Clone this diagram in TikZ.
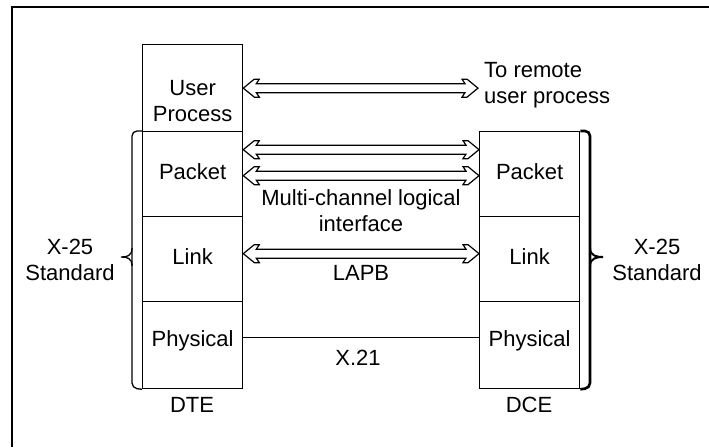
\documentclass[tikz,border=0pt]{standalone}
\usepackage{fontspec}
\setmainfont{Liberation Sans}
\usetikzlibrary{arrows.meta,calc}
\begin{document}
\begin{tikzpicture}[x=1pt,y=-1pt,
  layer/.style={draw, line width=1.3pt, minimum width=100pt, inner sep=0pt, anchor=north west},
  txt/.style={font=\fontsize{22}{26}\selectfont, align=center, inner sep=0pt},
  dbl/.style={draw, fill=white, line width=1.2pt, line join=miter, to path={
    let \p1=(\tikztostart), \p2=(\tikztotarget) in
    (\x1,\y1) -- (\x1+11pt,\y1+9pt) -- (\x1+16pt,\y1+9pt) -- (\x1+13pt,\y1+4.5pt)
    -- (\x2-13pt,\y1+4.5pt) -- (\x2-16pt,\y1+9pt) -- (\x2-11pt,\y1+9pt) -- (\x2,\y1)
    -- (\x2-11pt,\y1-9pt) -- (\x2-16pt,\y1-9pt) -- (\x2-13pt,\y1-4.5pt)
    -- (\x1+13pt,\y1-4.5pt) -- (\x1+16pt,\y1-9pt) -- (\x1+11pt,\y1-9pt) -- cycle}},
  brace/.style={line width=1.3pt, rounded corners=5pt}]
\useasboundingbox (0,0) rectangle (709,447);
% outer frame (only top and left visible)
\draw[line width=2pt] (12,447) -- (12,7) -- (709,7);
% DTE stack
\node[layer, minimum height=87pt] (dteU) at (142,44) {};
\node[layer, minimum height=85pt] (dteP) at (142,131) {};
\node[layer, minimum height=85pt] (dteL) at (142,216) {};
\node[layer, minimum height=87pt] (dtePh) at (142,301) {};
% DCE stack
\node[layer, minimum height=85pt] (dceP) at (479,131) {};
\node[layer, minimum height=85pt] (dceL) at (479,216) {};
\node[layer, minimum height=87pt] (dcePh) at (479,301) {};
% layer texts
\node[txt] (tU) at ($(dteU.center)+(0,13)$) {User\\Process};
\node[txt] (tP1) at ($(dteP.center)+(0,-3)$) {Packet};
\node[txt] (tL1) at ($(dteL.center)+(0,-3)$) {Link};
\node[txt] (tPh1) at ($(dtePh.center)+(0,-4)$) {Physical};
\node[txt] (tP2) at ($(dceP.center)+(0,-3)$) {Packet};
\node[txt] (tL2) at ($(dceL.center)+(0,-3)$) {Link};
\node[txt] (tPh2) at ($(dcePh.center)+(0,-4)$) {Physical};
\node[txt] (dte) at (192,405) {DTE};
\node[txt] (dce) at (529,405) {DCE};
% connectors
\coordinate (remote) at (478,88);
\path[dbl] (dteU.east) to (remote);
\node[txt, align=left, anchor=west] (remtxt) at (484,85) {To remote\\user process};
\path[dbl] ([yshift=24.5pt]dteP.east) to ([yshift=24.5pt]dceP.west);
\path[dbl] ([yshift=-1.5pt]dteP.east) to ([yshift=-1.5pt]dceP.west);
\node[txt] (multi) at (361,211) {Multi-channel logical\\interface};
\path[dbl] ([yshift=5.5pt]dteL.east) to ([yshift=5.5pt]dceL.west);
\node[txt] (lapb) at (361,273) {LAPB};
\draw[line width=1.3pt] ([yshift=7.5pt]dtePh.east) -- ([yshift=7.5pt]dcePh.west);
\node[txt] (x21) at (358,358) {X.21};
% left brace
\draw[brace] (dteP.north west) -- (132,131) -- (132,388) -- (dtePh.south west);
\draw[line width=1.3pt] (132,248) .. controls (132,256) and (127,257) .. (121,257) .. controls (127,257) and (132,258) .. (132,266);
\node[txt] (stdL) at (70,260) {X-25\\Standard};
% right brace
\draw[brace, line width=2.6pt] (dceP.north east) -- (590,131) -- (590,388) -- (dcePh.south east);
\draw[line width=2pt] (590,248) .. controls (590,256) and (597,257) .. (603,257) .. controls (597,257) and (590,258) .. (590,266);
\node[txt] (stdR) at (657,260) {X-25\\Standard};
\end{tikzpicture}
\end{document}
